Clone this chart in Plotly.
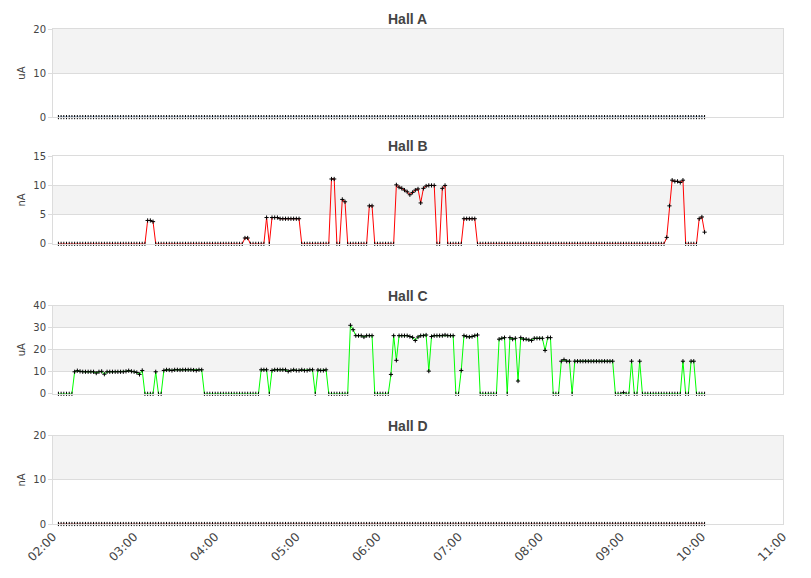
import pandas as pd
import plotly.graph_objects as go
from plotly.subplots import make_subplots

# one reading every 2 minutes, 02:04 -> 10:02
times = pd.date_range("2024-01-01 02:04", periods=240, freq="2min")

halls = ["Hall A", "Hall B", "Hall C", "Hall D"]
units = ["uA", "nA", "uA", "nA"]
y_ticks = [[0, 10, 20], [0, 5, 10, 15], [0, 10, 20, 30, 40], [0, 10, 20]]
line_colors = ["#4572a7", "#ff0000", "#00ff00", "#aa4643"]

hall_a = [
    0, 0, 0, 0, 0, 0, 0, 0, 0, 0, 0, 0, 0, 0, 0, 0, 0, 0, 0, 0,
    0, 0, 0, 0, 0, 0, 0, 0, 0, 0, 0, 0, 0, 0, 0, 0, 0, 0, 0, 0,
    0, 0, 0, 0, 0, 0, 0, 0, 0, 0, 0, 0, 0, 0, 0, 0, 0, 0, 0, 0,
    0, 0, 0, 0, 0, 0, 0, 0, 0, 0, 0, 0, 0, 0, 0, 0, 0, 0, 0, 0,
    0, 0, 0, 0, 0, 0, 0, 0, 0, 0, 0, 0, 0, 0, 0, 0, 0, 0, 0, 0,
    0, 0, 0, 0, 0, 0, 0, 0, 0, 0, 0, 0, 0, 0, 0, 0, 0, 0, 0, 0,
    0, 0, 0, 0, 0, 0, 0, 0, 0, 0, 0, 0, 0, 0, 0, 0, 0, 0, 0, 0,
    0, 0, 0, 0, 0, 0, 0, 0, 0, 0, 0, 0, 0, 0, 0, 0, 0, 0, 0, 0,
    0, 0, 0, 0, 0, 0, 0, 0, 0, 0, 0, 0, 0, 0, 0, 0, 0, 0, 0, 0,
    0, 0, 0, 0, 0, 0, 0, 0, 0, 0, 0, 0, 0, 0, 0, 0, 0, 0, 0, 0,
    0, 0, 0, 0, 0, 0, 0, 0, 0, 0, 0, 0, 0, 0, 0, 0, 0, 0, 0, 0,
    0, 0, 0, 0, 0, 0, 0, 0, 0, 0, 0, 0, 0, 0, 0, 0, 0, 0, 0, 0,
]

hall_b = [
    0, 0, 0, 0, 0, 0, 0, 0, 0, 0, 0, 0, 0, 0, 0, 0, 0, 0, 0, 0,
    0, 0, 0, 0, 0, 0, 0, 0, 0, 0, 0, 0, 0, 4.0, 4.0, 3.8, 0, 0, 0, 0,
    0, 0, 0, 0, 0, 0, 0, 0, 0, 0, 0, 0, 0, 0, 0, 0, 0, 0, 0, 0,
    0, 0, 0, 0, 0, 0, 0, 0, 0, 1.0, 1.0, 0, 0, 0, 0, 0, 0, 4.5, 0, 4.5,
    4.5, 4.5, 4.3, 4.3, 4.3, 4.3, 4.3, 4.3, 4.3, 4.3, 0, 0, 0, 0, 0, 0, 0, 0, 0, 0,
    0, 11.1, 11.1, 0, 0, 7.6, 7.2, 0, 0, 0, 0, 0, 0, 0, 0, 6.5, 6.5, 0, 0, 0,
    0, 0, 0, 0, 0, 10.1, 9.7, 9.5, 9.2, 8.9, 8.4, 8.8, 9.2, 9.4, 7.0, 9.5, 9.9, 10.0, 10.0, 10.0,
    0, 0, 9.5, 10.0, 0, 0, 0, 0, 0, 0, 4.3, 4.3, 4.3, 4.3, 4.3, 0, 0, 0, 0, 0,
    0, 0, 0, 0, 0, 0, 0, 0, 0, 0, 0, 0, 0, 0, 0, 0, 0, 0, 0, 0,
    0, 0, 0, 0, 0, 0, 0, 0, 0, 0, 0, 0, 0, 0, 0, 0, 0, 0, 0, 0,
    0, 0, 0, 0, 0, 0, 0, 0, 0, 0, 0, 0, 0, 0, 0, 0, 0, 0, 0, 0,
    0, 0, 0, 0, 0, 1.1, 6.5, 10.9, 10.7, 10.7, 10.5, 10.9, 0, 0, 0, 0, 0, 4.3, 4.6, 2.0,
]

hall_c = [
    0, 0, 0, 0, 0, 0, 10.0, 10.5, 10.2, 10.0, 10.0, 10.0, 10.0, 10.0, 9.4, 10.0, 10.2, 8.9, 10.0, 10.0,
    10.0, 10.0, 10.0, 10.0, 10.0, 10.2, 10.5, 10.2, 10.0, 9.7, 8.8, 10.6, 0, 0, 0, 0, 10.0, 0, 0, 10.6,
    10.9, 10.8, 10.6, 10.9, 10.9, 10.8, 10.9, 10.9, 10.9, 10.9, 10.8, 10.6, 10.9, 10.9, 0, 0, 0, 0, 0, 0,
    0, 0, 0, 0, 0, 0, 0, 0, 0, 0, 0, 0, 0, 0, 0, 10.9, 10.9, 10.9, 0, 10.6,
    10.9, 10.9, 10.9, 10.9, 10.9, 10.2, 10.6, 10.9, 10.6, 10.6, 10.9, 10.6, 10.6, 10.9, 10.9, 0, 10.8, 10.6, 10.6, 10.9,
    0, 0, 0, 0, 0, 0, 0, 0, 31.1, 29.1, 26.4, 26.4, 26.4, 25.8, 26.4, 26.4, 26.4, 0, 0, 0,
    0, 0, 0, 8.8, 26.4, 15.2, 26.4, 26.4, 26.4, 26.4, 26.0, 25.6, 24.2, 25.8, 26.4, 26.4, 26.7, 10.3, 26.0, 26.4,
    26.4, 26.4, 26.4, 26.7, 26.4, 26.4, 26.4, 0, 0, 10.6, 26.4, 26.0, 25.8, 26.0, 26.4, 26.7, 0, 0, 0, 0,
    0, 0, 0, 24.8, 25.2, 25.5, 0, 25.5, 24.8, 25.2, 5.8, 25.5, 24.8, 24.8, 24.5, 24.2, 25.2, 25.2, 25.2, 25.2,
    19.7, 25.5, 25.5, 0, 0, 0, 14.8, 15.5, 14.8, 14.8, 0, 14.8, 14.8, 14.8, 14.8, 14.8, 14.8, 14.8, 14.8, 14.8,
    14.8, 14.8, 14.8, 14.8, 14.8, 14.8, 0, 0, 0, 0.5, 0, 0, 14.8, 0, 0, 14.8, 0, 0, 0, 0,
    0, 0, 0, 0, 0, 0, 0, 0, 0, 0, 0, 14.8, 0, 0, 14.8, 14.8, 0, 0, 0, 0,
]

hall_d = [
    0, 0, 0, 0, 0, 0, 0, 0, 0, 0, 0, 0, 0, 0, 0, 0, 0, 0, 0, 0,
    0, 0, 0, 0, 0, 0, 0, 0, 0, 0, 0, 0, 0, 0, 0, 0, 0, 0, 0, 0,
    0, 0, 0, 0, 0, 0, 0, 0, 0, 0, 0, 0, 0, 0, 0, 0, 0, 0, 0, 0,
    0, 0, 0, 0, 0, 0, 0, 0, 0, 0, 0, 0, 0, 0, 0, 0, 0, 0, 0, 0,
    0, 0, 0, 0, 0, 0, 0, 0, 0, 0, 0, 0, 0, 0, 0, 0, 0, 0, 0, 0,
    0, 0, 0, 0, 0, 0, 0, 0, 0, 0, 0, 0, 0, 0, 0, 0, 0, 0, 0, 0,
    0, 0, 0, 0, 0, 0, 0, 0, 0, 0, 0, 0, 0, 0, 0, 0, 0, 0, 0, 0,
    0, 0, 0, 0, 0, 0, 0, 0, 0, 0, 0, 0, 0, 0, 0, 0, 0, 0, 0, 0,
    0, 0, 0, 0, 0, 0, 0, 0, 0, 0, 0, 0, 0, 0, 0, 0, 0, 0, 0, 0,
    0, 0, 0, 0, 0, 0, 0, 0, 0, 0, 0, 0, 0, 0, 0, 0, 0, 0, 0, 0,
    0, 0, 0, 0, 0, 0, 0, 0, 0, 0, 0, 0, 0, 0, 0, 0, 0, 0, 0, 0,
    0, 0, 0, 0, 0, 0, 0, 0, 0, 0, 0, 0, 0, 0, 0, 0, 0, 0, 0, 0,
]

series = [hall_a, hall_b, hall_c, hall_d]

# plot box positions (fraction of the plot height, bottom -> top)
domains = [[0.822, 1.0], [0.566, 0.743], [0.263, 0.441], [0.0, 0.178]]

fig = make_subplots(rows=4, cols=1, shared_xaxes=True)

grid = "#dcdcdc"
band = "#f3f3f3"
text_col = "#444444"

for i, name in enumerate(halls):
    # crosses sitting on the axis line only show their vertical arm
    symbols = ["line-ns" if v == 0 else "cross-thin" for v in series[i]]
    fig.add_trace(go.Scatter(
        x=times, y=series[i], mode="lines+markers",
        line=dict(color=line_colors[i], width=1),
        marker=dict(symbol=symbols, size=3, color="black",
                    line=dict(width=1, color="black")),
        cliponaxis=False, showlegend=False, hoverinfo="x+y",
    ), row=i + 1, col=1)

    n = "" if i == 0 else str(i + 1)
    ticks = y_ticks[i]
    fig.layout["yaxis" + n].update(
        domain=domains[i], range=[ticks[0], ticks[-1]], tickvals=ticks,
        showgrid=True, gridcolor=grid, zeroline=False,
        showline=True, linecolor=grid, mirror=True,
        ticks="outside", ticklen=4, tickcolor=grid,
        tickfont=dict(size=10, color=text_col),
        title=dict(text=units[i], font=dict(size=10, color=text_col), standoff=5),
        fixedrange=True,
    )
    fig.layout["xaxis" + n].update(
        range=["2024-01-01 02:00", "2024-01-01 11:00"],
        showgrid=False, zeroline=False,
        showline=True, linecolor=grid, mirror=True,
        layer="above traces",
        dtick=3600000, tickformat="%H:%M", tickangle=-45,
        tickfont=dict(size=12, color=text_col),
    )

    # alternating grey bands
    for j in range(1, len(ticks) - 1, 2):
        fig.add_shape(type="rect", xref="x" + n + " domain", yref="y" + n,
                      x0=0, x1=1, y0=ticks[j], y1=ticks[j + 1],
                      fillcolor=band, line_width=0, layer="below")

    fig.add_annotation(text="<b>" + name + "</b>", xref="paper", yref="paper",
                       x=0.486, y=domains[i][1], yanchor="bottom", yshift=0,
                       showarrow=False,
                       font=dict(family="Liberation Sans", size=14, color=text_col))

# page body adds an 8px offset, so margins are shifted to compensate
fig.update_layout(
    width=811, height=578,
    margin=dict(l=45, r=36, t=21, b=62),
    paper_bgcolor="white", plot_bgcolor="white",
    font=dict(family="DejaVu Sans", color=text_col),
)

fig.write_html("out.html")
